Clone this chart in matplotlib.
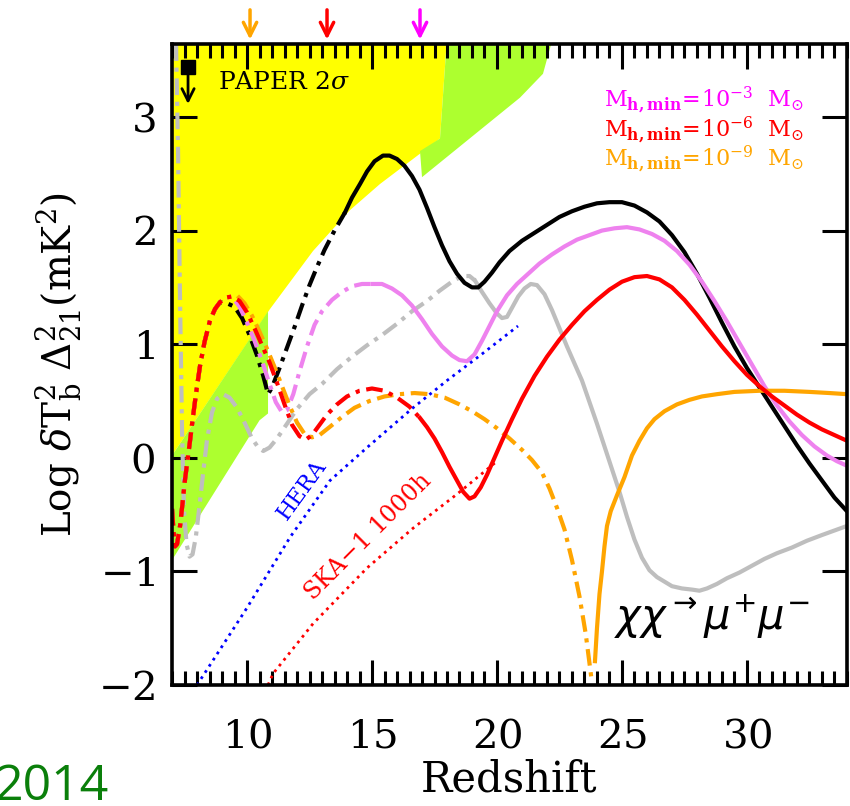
import numpy as np
import matplotlib
matplotlib.use("Agg")
from matplotlib import pyplot as plt
from matplotlib.ticker import MultipleLocator

plt.rcParams['font.family'] = 'DejaVu Serif'
plt.rcParams['mathtext.fontset'] = 'dejavuserif'
plt.rcParams['axes.formatter.use_mathtext'] = True

# shared rise at low redshift (all models overlap here)
z_rise = [7.0, 7.06, 7.12, 7.2, 7.32, 7.42, 7.52, 7.62, 7.72, 7.82, 7.92, 8.02, 8.12, 8.3, 8.52, 8.72, 8.92, 9.15, 9.4]
y_rise = [-0.45, -0.65, -0.78, -0.76, -0.60, -0.40, -0.19, -0.02, 0.15, 0.33, 0.50, 0.66, 0.81, 1.02, 1.21, 1.31, 1.37, 1.41, 1.42]

# red, Mh,min = 1e-6
red_dd_z = z_rise + [9.7, 10.0, 10.3, 10.6, 10.9, 11.2, 11.5, 11.8, 12.1, 12.35, 12.6, 12.9, 13.2, 13.6,
                     14.0, 14.5, 15.0, 15.5, 16.0, 16.5, 16.92]
red_dd_y = y_rise + [1.38, 1.28, 1.14, 0.99, 0.84, 0.66, 0.47, 0.29, 0.19, 0.16, 0.20, 0.29, 0.38, 0.47,
                     0.54, 0.59, 0.61, 0.59, 0.53, 0.45, 0.35]
red_z = [16.92, 17.2, 17.5, 17.8, 18.1, 18.4, 18.65, 18.9, 19.1, 19.35, 19.6, 19.9, 20.2, 20.6, 21.0,
         21.5, 22.0, 22.5, 23.0, 23.5, 24.0, 24.5, 25.0, 25.5, 26.0, 26.5, 27.0, 27.5, 28.0, 28.5,
         29.0, 29.5, 30.0, 30.5, 31.0, 31.5, 32.0, 32.5, 33.0, 33.5, 34.0]
red_y = [0.35, 0.27, 0.17, 0.05, -0.08, -0.20, -0.30, -0.36, -0.34, -0.26, -0.15, 0.0, 0.15, 0.34, 0.52,
         0.72, 0.89, 1.04, 1.17, 1.29, 1.39, 1.48, 1.55, 1.59, 1.60, 1.57, 1.50, 1.39, 1.26, 1.12,
         0.98, 0.85, 0.73, 0.63, 0.54, 0.46, 0.38, 0.31, 0.25, 0.20, 0.15]

# orange, Mh,min = 1e-9
orange_dd_z = z_rise + [9.6, 9.9, 10.2, 10.5, 10.8, 11.1, 11.4, 11.7, 12.0, 12.3, 12.6, 12.9, 13.3, 13.8,
                        14.3, 14.9, 15.5, 16.1, 16.7, 17.3, 17.9, 18.5, 19.0, 19.5, 20.0, 20.5, 21.0,
                        21.4, 21.8, 22.1, 22.4, 22.7, 23.0, 23.3, 23.55, 23.8]
orange_dd_y = y_rise + [1.43, 1.36, 1.25, 1.11, 0.96, 0.80, 0.63, 0.46, 0.31, 0.21, 0.18, 0.20, 0.27, 0.36,
                        0.44, 0.50, 0.54, 0.56, 0.57, 0.56, 0.53, 0.47, 0.41, 0.34, 0.26, 0.17, 0.07,
                        -0.02, -0.13, -0.27, -0.44, -0.63, -0.90, -1.22, -1.55, -1.98]
orange_z = [23.92, 24.0, 24.1, 24.2, 24.3, 24.4, 24.55, 24.8, 25.1, 25.4, 25.7, 26.0, 26.3, 26.7,
            27.2, 27.7, 28.2, 28.8, 29.5, 30.5, 31.5, 32.5, 33.3, 34.0]
orange_y = [-1.79, -1.50, -1.20, -1.00, -0.78, -0.60, -0.47, -0.33, -0.17, 0.02, 0.15, 0.26, 0.34, 0.41,
            0.47, 0.51, 0.54, 0.56, 0.58, 0.59, 0.59, 0.58, 0.57, 0.56]

# violet, Mh,min = 1e-3
violet_dd_z = z_rise + [9.7, 10.0, 10.3, 10.6, 10.9, 11.15, 11.4, 11.6, 11.85, 12.1, 12.4, 12.7, 13.0,
                        13.4, 13.8, 14.2, 14.6, 15.04]
violet_dd_y = y_rise + [1.33, 1.19, 1.03, 0.85, 0.65, 0.49, 0.40, 0.42, 0.56, 0.76, 0.98, 1.17, 1.29,
                        1.39, 1.46, 1.51, 1.53, 1.53]
violet_z = [15.04, 15.4, 15.8, 16.2, 16.6, 17.0, 17.4, 17.8, 18.2, 18.5, 18.8, 19.1, 19.4, 19.7, 20.0,
            20.4, 20.8, 21.2, 21.7, 22.2, 22.7, 23.2, 23.7, 24.2, 24.7, 25.2, 25.7, 26.2, 26.7, 27.2,
            27.7, 28.2, 28.7, 29.2, 29.7, 30.2, 30.7, 31.2, 31.7, 32.2, 32.7, 33.2, 33.6, 34.0]
violet_y = [1.53, 1.53, 1.49, 1.43, 1.34, 1.22, 1.09, 0.98, 0.90, 0.86, 0.85, 0.91, 1.03, 1.16, 1.29,
            1.43, 1.53, 1.61, 1.71, 1.79, 1.86, 1.92, 1.96, 2.00, 2.02, 2.03, 2.01, 1.97, 1.91, 1.82,
            1.70, 1.55, 1.38, 1.20, 1.01, 0.82, 0.63, 0.46, 0.32, 0.20, 0.10, 0.02, -0.03, -0.07]

# black
black_dd_z = z_rise[:17] + [9.2, 9.5, 9.8, 10.1, 10.4, 10.65, 10.84, 11.0, 11.3, 11.6, 11.9, 12.2, 12.5,
                            12.8, 13.1, 13.5, 13.92]
black_dd_y = y_rise[:17] + [1.36, 1.33, 1.23, 1.08, 0.90, 0.72, 0.56, 0.62, 0.79, 0.97, 1.15, 1.34, 1.52,
                            1.68, 1.83, 2.00, 2.16]
black_z = [13.92, 14.2, 14.52, 14.8, 15.1, 15.44, 15.7, 16.0, 16.3, 16.6, 16.9, 17.2, 17.5, 17.8, 18.1,
           18.4, 18.7, 19.0, 19.25, 19.5, 19.8, 20.1, 20.5, 21.0, 21.5, 22.0, 22.5, 23.0, 23.5, 24.0,
           24.5, 25.0, 25.5, 26.0, 26.5, 27.0, 27.5, 28.0, 28.5, 29.0, 29.5, 30.0, 30.5, 31.0, 31.5,
           32.0, 32.5, 33.0, 33.5, 34.0]
black_y = [2.16, 2.29, 2.41, 2.52, 2.61, 2.66, 2.66, 2.63, 2.57, 2.48, 2.36, 2.20, 2.03, 1.87, 1.73,
           1.62, 1.54, 1.50, 1.50, 1.55, 1.63, 1.72, 1.82, 1.91, 1.98, 2.05, 2.12, 2.17, 2.21, 2.24,
           2.25, 2.25, 2.22, 2.16, 2.08, 1.96, 1.81, 1.62, 1.41, 1.19, 0.98, 0.79, 0.62, 0.45, 0.28,
           0.11, -0.05, -0.20, -0.35, -0.47]

# gray
gray_dd_z = [7.16, 7.24, 7.32, 7.4, 7.48, 7.58, 7.7, 7.82, 7.95, 8.1, 8.25, 8.4, 8.6, 8.8, 9.04, 9.3, 9.6,
             9.9, 10.2, 10.45, 10.65, 10.9, 11.2, 11.6, 12.0, 12.5, 13.0, 13.6, 14.2, 14.8, 15.4, 16.0,
             16.6, 17.2, 17.7, 18.2, 18.6, 18.9, 19.12]
gray_dd_y = [3.64, 2.70, 1.38, 0.24, -0.47, -0.76, -0.87, -0.85, -0.70, -0.42, -0.12, 0.16, 0.40, 0.52,
             0.56, 0.53, 0.44, 0.31, 0.17, 0.09, 0.06, 0.09, 0.17, 0.30, 0.43, 0.56, 0.65, 0.78, 0.89,
             0.99, 1.08, 1.18, 1.29, 1.38, 1.47, 1.55, 1.60, 1.60, 1.56]
gray_z = [19.12, 19.4, 19.7, 20.0, 20.2, 20.4, 20.6, 20.85, 21.1, 21.35, 21.6, 21.9, 22.2, 22.5, 22.8,
          23.1, 23.4, 23.7, 24.0, 24.3, 24.6, 24.9, 25.2, 25.5, 25.8, 26.1, 26.4, 26.7, 27.0, 27.4,
          27.8, 28.1, 28.4, 28.8, 29.2, 29.7, 30.2, 30.7, 31.2, 31.8, 32.4, 33.0, 33.5, 34.0]
gray_y = [1.56, 1.46, 1.36, 1.27, 1.23, 1.24, 1.32, 1.42, 1.49, 1.53, 1.52, 1.44, 1.30, 1.14, 0.98,
          0.83, 0.68, 0.49, 0.30, 0.10, -0.10, -0.30, -0.52, -0.72, -0.88, -0.99, -1.05, -1.09, -1.13, -1.15,
          -1.16, -1.17, -1.15, -1.11, -1.06, -1.01, -0.95, -0.89, -0.84, -0.79, -0.73, -0.68, -0.64, -0.60]

# sensitivities
hera_z = [8.0, 10.0, 11.72, 13.32, 14.8, 16.64, 18.0, 19.32, 20.84]
hera_y = [-2.0, -1.32, -0.70, -0.20, 0.09, 0.44, 0.68, 0.90, 1.16]
ska_z = [10.84, 11.04, 12.64, 14.8, 16.64, 18.4, 20.0]
ska_y = [-2.0, -1.9, -1.46, -0.97, -0.62, -0.32, -0.03]

# PAPER 2 sigma excluded region (yellow) and green band
yellow_z = [7.0, 7.0, 10.92, 12.64, 14.12, 15.32, 17.72, 18.0]
yellow_y = [3.7, 0.02, 1.31, 1.82, 2.18, 2.41, 2.81, 3.7]
green1_z = [7.0, 10.5, 10.84, 10.84, 7.0]
green1_y = [-0.9, 0.33, 0.39, 1.29, 0.02]
green2_z = [16.92, 17.72, 18.0, 22.24, 21.84, 20.92, 17.0]
green2_y = [2.70, 2.81, 3.7, 3.7, 3.38, 3.17, 2.47]

arrow_z = [10.12, 13.2, 16.92]
arrow_c = ['orange', 'red', 'magenta']

fig = plt.figure(figsize=(8.5, 8.06), dpi=100)
ax = fig.add_axes([0.2024, 0.1501, 0.794, 0.795])

ax.fill(yellow_z, yellow_y, color='#ffff00', lw=0, zorder=0)
ax.fill(green1_z, green1_y, color='#adff2f', lw=0, zorder=0)
ax.fill(green2_z, green2_y, color='#adff2f', lw=0, zorder=0)

dd = (4, 1.6, 1, 1.6)
lw = 3
ax.plot(gray_dd_z, gray_dd_y, color='#bebebe', lw=lw, dashes=dd)
ax.plot(gray_z, gray_y, color='#bebebe', lw=lw)
ax.plot(black_dd_z, black_dd_y, color='k', lw=lw, dashes=dd)
ax.plot(black_z, black_y, color='k', lw=lw)
ax.plot(violet_dd_z, violet_dd_y, color='violet', lw=lw, dashes=dd)
ax.plot(violet_z, violet_y, color='violet', lw=lw)
ax.plot(orange_dd_z, orange_dd_y, color='orange', lw=lw, dashes=dd)
ax.plot(orange_z, orange_y, color='orange', lw=lw)
ax.plot(red_dd_z, red_dd_y, color='red', lw=lw, dashes=dd)
ax.plot(red_z, red_y, color='red', lw=lw)

ax.plot(hera_z, hera_y, color='blue', lw=2, ls=':')
ax.plot(ska_z, ska_y, color='red', lw=2, ls=':')
ax.text(12.2, -0.28, 'HERA', color='blue', fontsize=16, rotation=54,
        ha='center', va='center', rotation_mode='anchor')
ax.text(14.85, -0.7, r'SKA$-$1 1000h', color='red', fontsize=17, rotation=45,
        ha='center', va='center', rotation_mode='anchor')

# PAPER limit
ax.plot([7.64], [3.44], 's', color='k', ms=10)
ax.annotate('', xy=(7.64, 3.09), xytext=(7.64, 3.44),
            arrowprops=dict(arrowstyle='->', color='k', lw=2, mutation_scale=22))
ax.text(8.85, 3.30, r'PAPER 2$\sigma$', fontsize=18, va='center')

for z, c in zip(arrow_z, arrow_c):
    ax.annotate('', xy=(z, 1.003), xytext=(z, 1.058), xycoords=('data', 'axes fraction'),
                arrowprops=dict(arrowstyle='->', color=c, lw=2.5, mutation_scale=24),
                annotation_clip=False)

ax.text(24.3, 3.15, r'$\mathrm{M_{\mathbf{h,min}}\!=\!10^{-3}\ \ M_{\odot}}$', color='magenta', fontsize=16, va='center')
ax.text(24.3, 2.89, r'$\mathrm{M_{\mathbf{h,min}}\!=\!10^{-6}\ \ M_{\odot}}$', color='red', fontsize=16, va='center')
ax.text(24.3, 2.63, r'$\mathrm{M_{\mathbf{h,min}}\!=\!10^{-9}\ \ M_{\odot}}$', color='orange', fontsize=16, va='center')

ax.text(28.6, -1.39, r'$\chi\chi^{\rightarrow}\mu^{+}\mu^{-}$', fontsize=30, ha='center', va='center',
        math_fontfamily='dejavusans')

ax.set_xlim(7, 34)
ax.set_ylim(-2.0, 3.64)
ax.xaxis.set_major_locator(MultipleLocator(5))
ax.xaxis.set_minor_locator(MultipleLocator(0.5))
ax.yaxis.set_major_locator(MultipleLocator(1))
ax.tick_params(which='both', direction='in', top=True, right=True, width=2.2)
ax.tick_params(which='major', length=18, labelsize=29)
ax.tick_params(which='minor', length=10)
ax.tick_params(axis='x', pad=24)
ax.tick_params(axis='y', pad=12)
for s in ax.spines.values():
    s.set_linewidth(2.6)
    s.set_zorder(5)

ax.set_xlabel('Redshift', fontsize=30, labelpad=2)
ax.set_ylabel(r'$\mathrm{Log}\ \delta\mathrm{T_b^2}\ \Delta_{21}^2(\mathrm{mK^2})$', fontsize=28, labelpad=10)

fig.text(-0.006, 0.008, '2014', color='#0a7f0a', fontsize=36, family='Open Sans')

fig.savefig('out.png', dpi=100)
